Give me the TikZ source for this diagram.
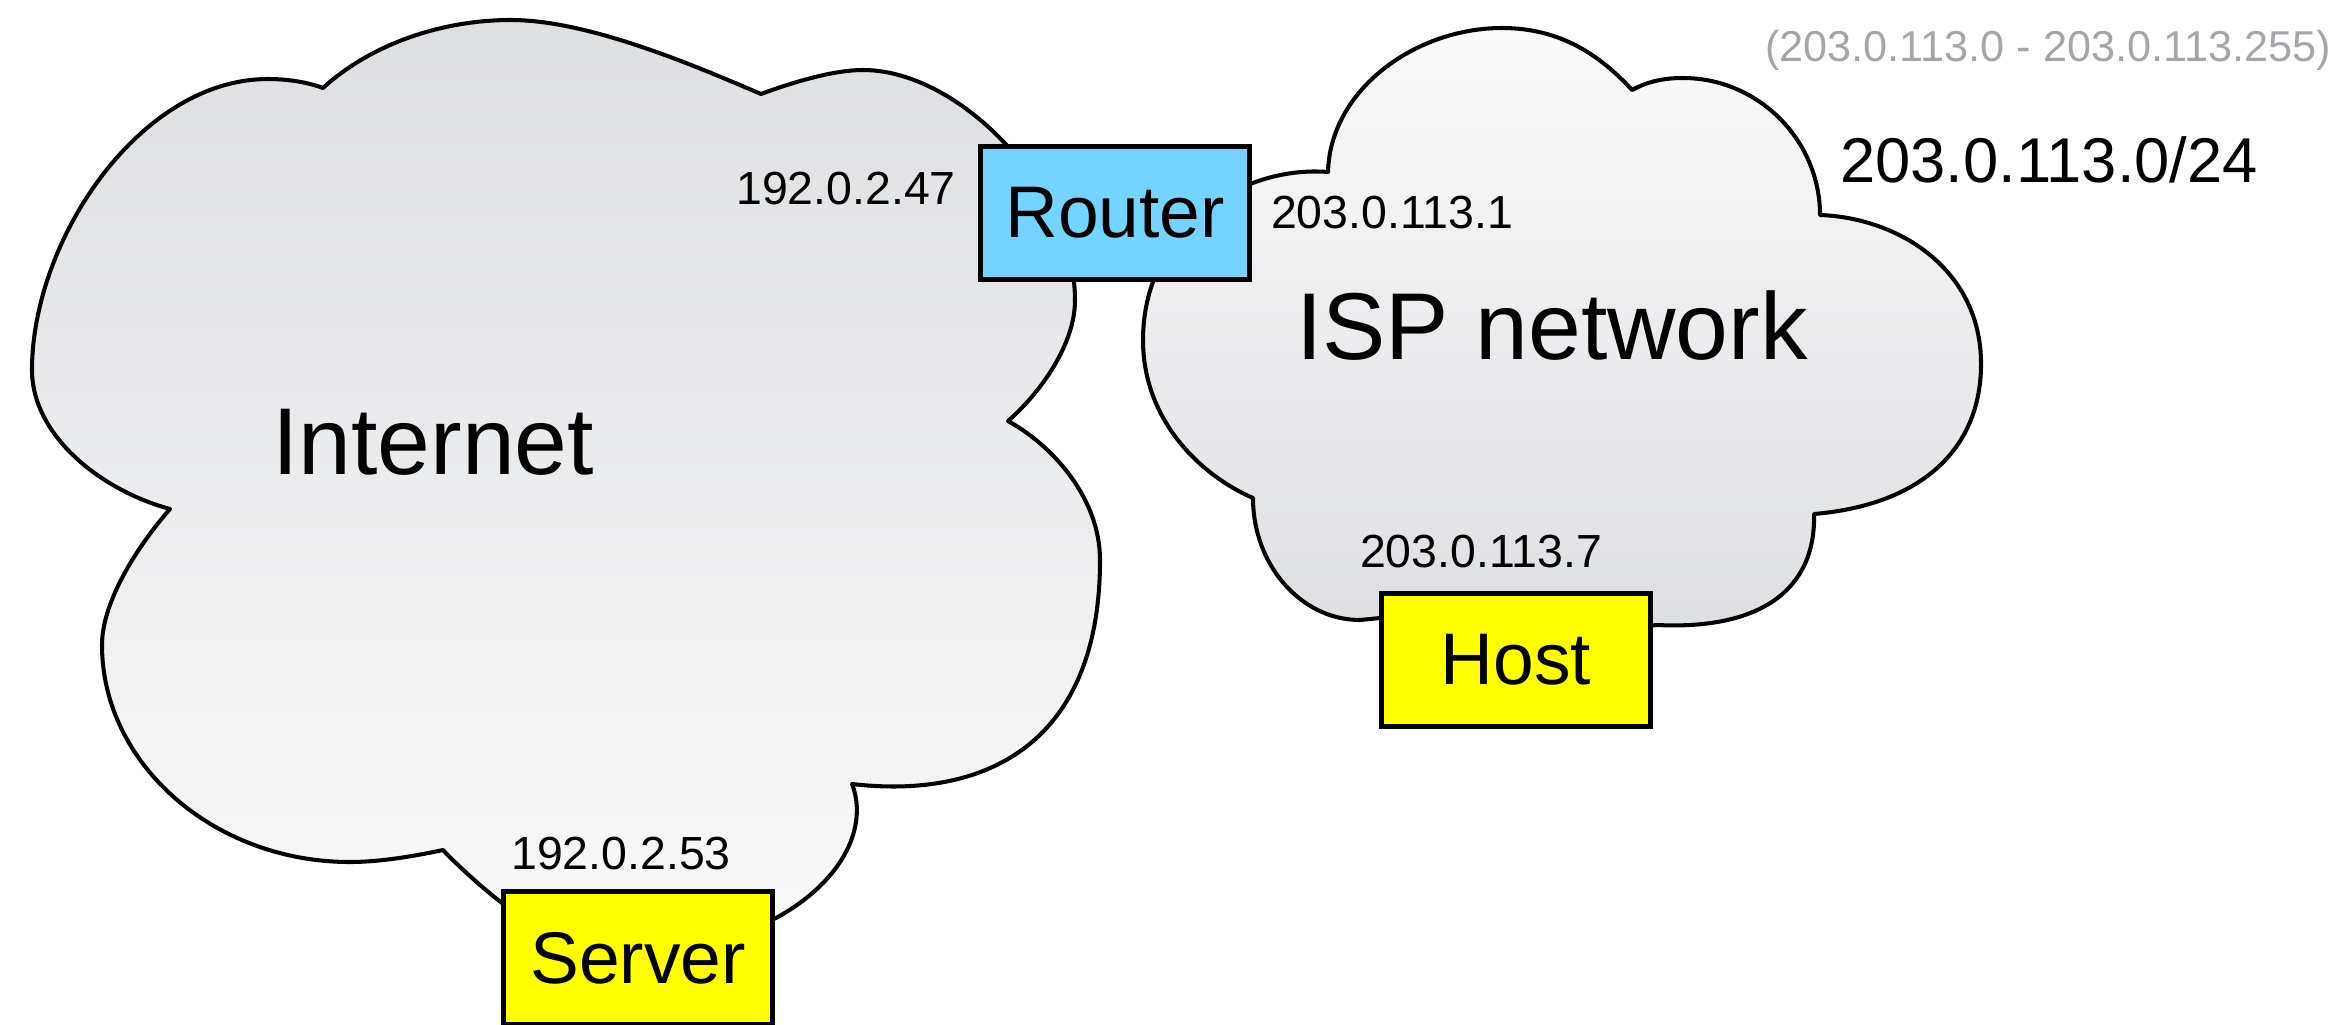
\documentclass[tikz,border=0pt]{standalone}
\usepackage{fontspec}
\setmainfont{Liberation Sans}
\definecolor{routerblue}{RGB}{117,212,254}
\definecolor{hostyellow}{RGB}{255,255,0}
\definecolor{cloudgray}{RGB}{222,223,226}
\definecolor{cloudlight}{RGB}{250,250,250}
\definecolor{rangegray}{RGB}{163,166,168}
\begin{document}
\begin{tikzpicture}[x=0.01cm,y=-0.01cm,
  cloudline/.style={draw=black, line width=1.15pt, line join=round},
  devbox/.style={draw=black, line width=1.3pt, minimum width=2.69cm, minimum height=1.33cm, inner sep=0pt, font=\fontsize{20.8}{24}\selectfont},
  bigtext/.style={inner sep=0pt, anchor=base, font=\fontsize{27}{32}\selectfont},
  iptext/.style={inner sep=0pt, anchor=base, font=\fontsize{13.2}{16}\selectfont}]
\useasboundingbox (0,0) rectangle (2337,1024);

% Internet cloud
\path[cloudline, top color=cloudgray, bottom color=cloudlight]
  (323,88) .. controls (370,45) and (440,20) .. (511,20)
  .. controls (590,20) and (700,68) .. (761,94)
  .. controls (796,81) and (835,70) .. (863,70)
  .. controls (960,70) and (1075,190) .. (1075,300)
  .. controls (1075,345) and (1040,393) .. (1008,421)
  .. controls (1055,447) and (1100,500) .. (1100,560)
  .. controls (1100,740) and (990,800) .. (852,784)
  .. controls (868,825) and (845,880) .. (776,918)
  -- (640,975) -- (502,903)
  .. controls (485,890) and (460,868) .. (443,850)
  .. controls (415,856) and (380,862) .. (350,862)
  .. controls (214,862) and (102,764) .. (102,645)
  .. controls (102,600) and (140,543) .. (170,509)
  .. controls (100,490) and (32,435) .. (32,370)
  .. controls (32,240) and (140,79) .. (268,79)
  .. controls (290,79) and (310,83) .. (323,88)
  -- cycle;

% ISP cloud
\path[cloudline, top color=cloudlight, bottom color=cloudgray]
  (1328,172) .. controls (1240,165) and (1143,230) .. (1143,340)
  .. controls (1143,420) and (1200,475) .. (1253,498)
  .. controls (1253,565) and (1301,620) .. (1360,620)
  -- (1380,618) -- (1560,635) -- (1657,625)
  .. controls (1760,630) and (1816,590) .. (1814,514)
  .. controls (1920,505) and (1981,450) .. (1981,364)
  .. controls (1981,270) and (1900,218) .. (1820,215)
  .. controls (1820,140) and (1758,78) .. (1683,78)
  .. controls (1660,78) and (1645,83) .. (1632,90)
  .. controls (1600,55) and (1560,28) .. (1502,28)
  .. controls (1415,28) and (1330,90) .. (1328,172)
  -- cycle;

% texts
\node[bigtext] (internet) at (433,474) {Internet};
\node[bigtext] (isp) at (1552,359) {ISP network};
\node[iptext] (ip47) at (846,204) {192.0.2.47};
\node[iptext] (ip1) at (1392,228) {203.0.113.1};
\node[iptext] (ip7) at (1481,567) {203.0.113.7};
\node[iptext] (ip53) at (621,869) {192.0.2.53};
\node[inner sep=0pt, anchor=base, font=\fontsize{18}{21}\selectfont] (cidr) at (2049,182) {203.0.113.0/24};
\node[inner sep=0pt, anchor=base, text=rangegray, font=\fontsize{12.3}{15}\selectfont] (range) at (2048,61) {(203.0.113.0 - 203.0.113.255)};

% devices
\node[devbox, fill=routerblue] (router) at (1115,213) {Router};
\node[devbox, fill=hostyellow] (host) at (1516,660) {Host};
\node[devbox, fill=hostyellow] (server) at (638,958) {Server};
\end{tikzpicture}
\end{document}
